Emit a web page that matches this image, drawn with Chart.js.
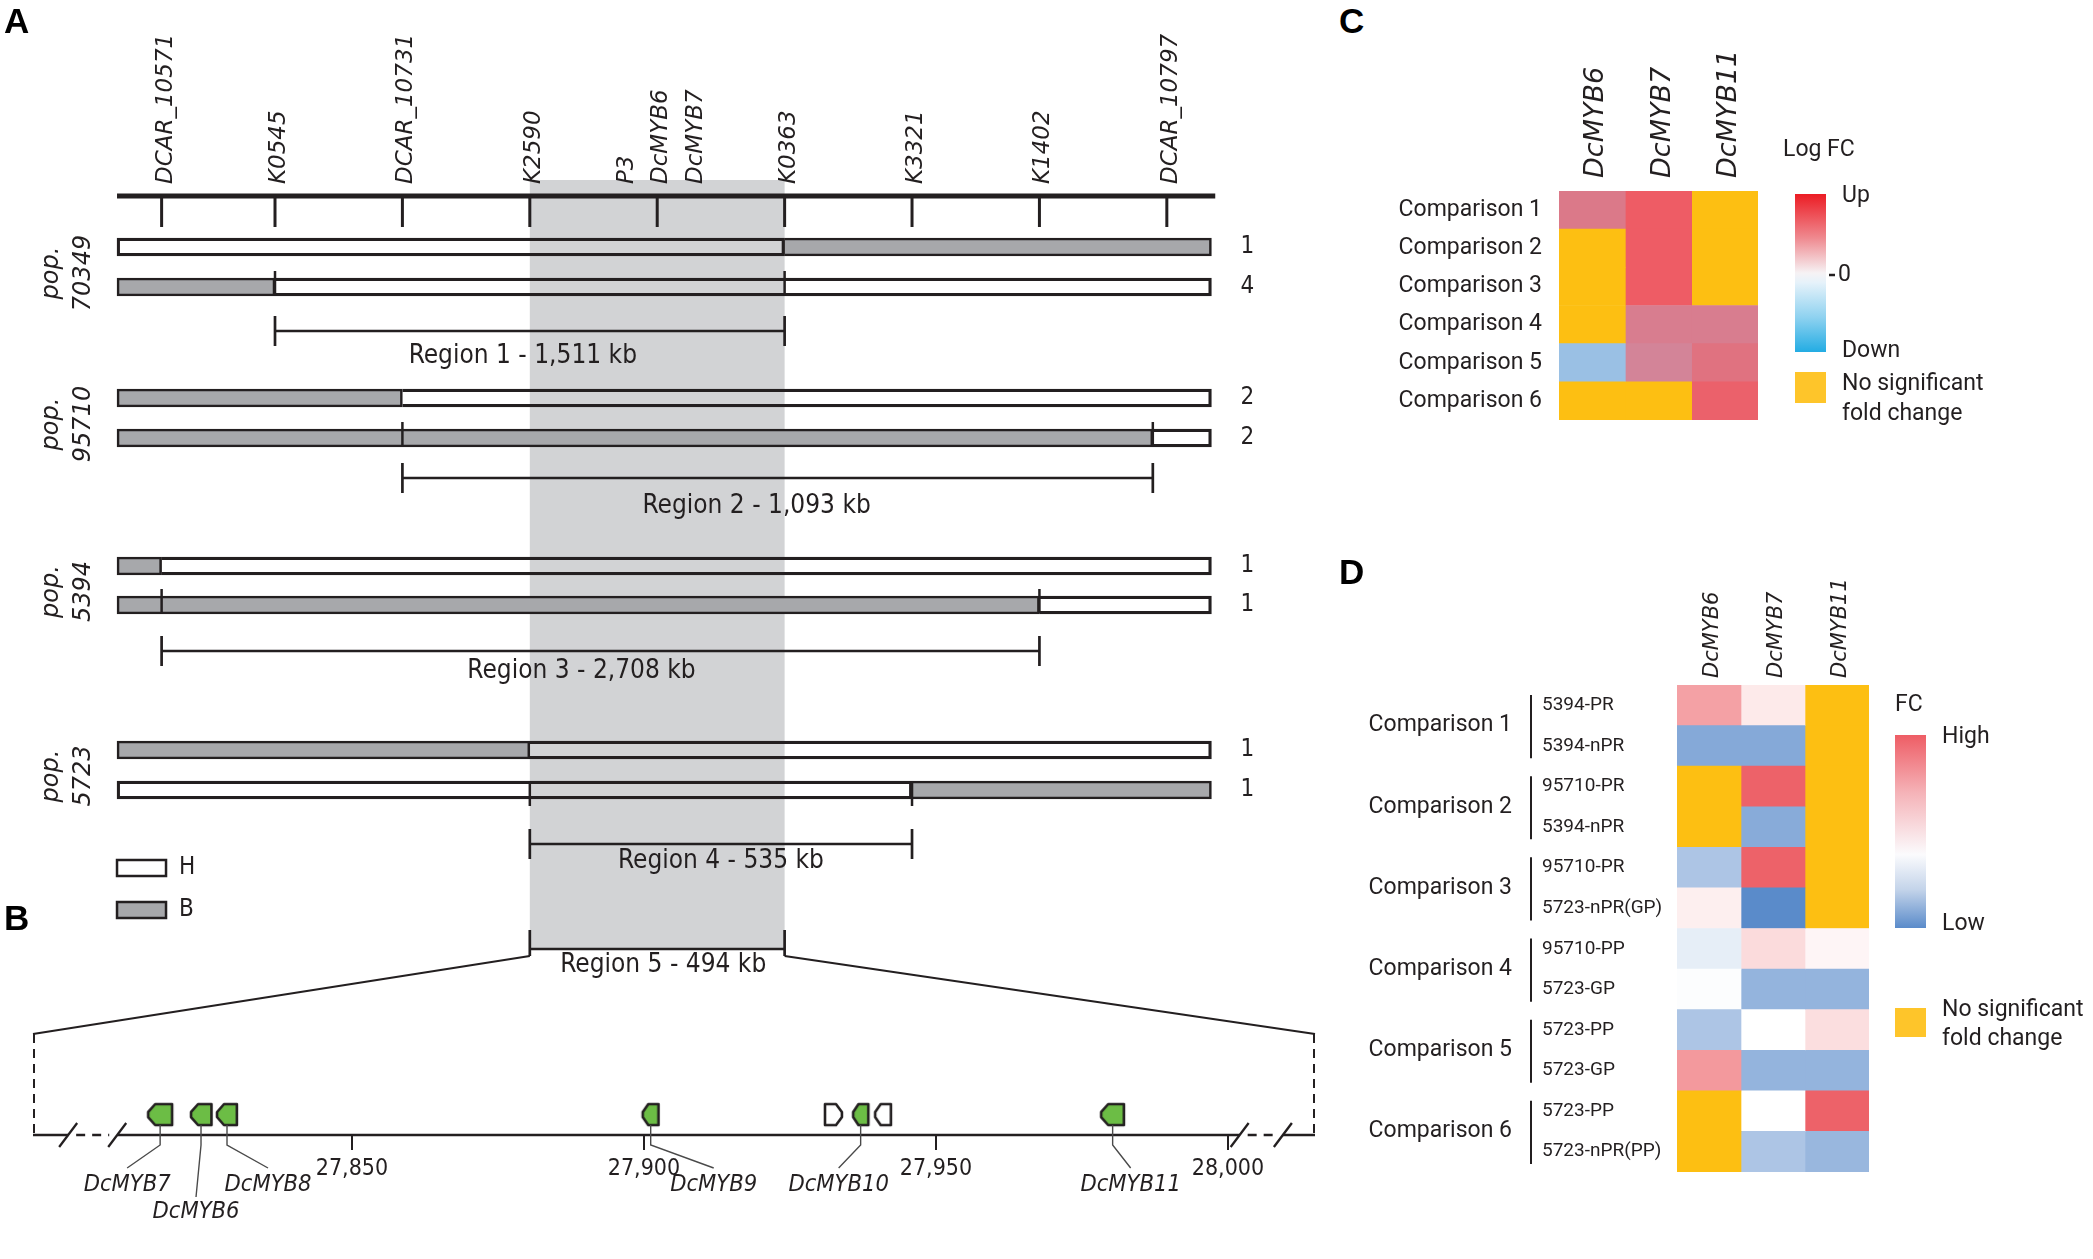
<!DOCTYPE html>
<html>
<head>
<meta charset="utf-8">
<script src="https://cdn.jsdelivr.net/npm/chart.js@4.4.1/dist/chart.umd.min.js"></script>
<style>
  html, body { margin: 0; padding: 0; background: #fff; }
  #page { position: relative; width: 2093px; height: 1259px; overflow: hidden; background: #fff; }
  .box { position: absolute; }
  .letter { position: absolute; font-family: "Liberation Sans", Arial, sans-serif; font-weight: bold; font-size: 35px; line-height: 1; color: #000; }
</style>
</head>
<body>
<div id="page">
  <div class="box" style="left:0;top:0"><canvas id="chartAB" width="1330" height="1259"></canvas></div>
  <div class="box" style="left:1340px;top:40px"><canvas id="chartC" width="753" height="420"></canvas></div>
  <div class="box" style="left:1340px;top:540px"><canvas id="chartD" width="753" height="719"></canvas></div>
  <div class="letter" style="left:4px;top:3px">A</div>
  <div class="letter" style="left:4px;top:900px">B</div>
  <div class="letter" style="left:1339px;top:3px">C</div>
  <div class="letter" style="left:1339px;top:554px">D</div>
</div>
<script>
// ---------- panel A : haplotype blocks along the marker map ----------
const markerPos = [0.11, 1, 2, 3, 4, 5, 6, 7, 8];
const markerNames = [['DCAR_10571'], ['K0545'], ['DCAR_10731'], ['K2590'], ['P3', 'DcMYB6', 'DcMYB7'], ['K0363'], ['K3321'], ['K1402'], ['DCAR_10797']];
const chromStart = -0.24;
const chromEnd = 8.35;
const populations = ['70349', '95710', '5394', '5723'];
// [start, end, allele] for the two haplotypes of each population
const hap70349 = [[[-0.24, 5, 'H'], [5, 8.35, 'B']], [[-0.24, 1, 'B'], [1, 8.35, 'H']]];
const hap95710 = [[[-0.24, 2, 'B'], [2, 8.35, 'H']], [[-0.24, 7.89, 'B'], [7.89, 8.35, 'H']]];
const hap5394 = [[[-0.24, 0.11, 'B'], [0.11, 8.35, 'H']], [[-0.24, 7, 'B'], [7, 8.35, 'H']]];
const hap5723 = [[[-0.24, 3, 'B'], [3, 8.35, 'H']], [[-0.24, 6, 'H'], [6, 8.35, 'B']]];
const hapCounts = [[1, 4], [2, 2], [1, 1], [1, 1]];
const regionNames = ['Region 1 - 1,511 kb', 'Region 2 - 1,093 kb', 'Region 3 - 2,708 kb', 'Region 4 - 535 kb'];
const regionStart = [1, 2, 0.11, 3];
const regionEnd = [5, 7.89, 7, 6];
const region5Name = 'Region 5 - 494 kb';
const region5 = [3, 5];

// ---------- panel B : genes in region 5 (kb) ----------
const geneNames = ['DcMYB7', 'DcMYB6', 'DcMYB8', 'DcMYB9', '', 'DcMYB10', '', 'DcMYB11'];
const geneStart = [27815.1, 27822.4, 27826.9, 27899.8, 27931.0, 27935.8, 27939.6, 27978.3];
const geneEnd = [27819.2, 27825.9, 27830.3, 27902.5, 27933.9, 27938.4, 27942.3, 27982.2];
const geneStrand = ['-', '-', '-', '-', '+', '-', '-', '-'];
const geneIsMyb = [true, true, true, true, false, true, false, true];
const kbMin = 27795.38;
const kbMax = 28014.9;
const kbTicks = [27850, 27900, 27950, 28000];
const kbTickLabels = ['27,850', '27,900', '27,950', '28,000'];

// ---------- panel C : log fold change (null = no significant change) ----------
const cGenes = ['DcMYB6', 'DcMYB7', 'DcMYB11'];
const cComparisons = ['Comparison 1', 'Comparison 2', 'Comparison 3', 'Comparison 4', 'Comparison 5', 'Comparison 6'];
const cMYB6 = [0.35, null, null, null, -1, null];
const cMYB7 = [0.95, 0.95, 0.95, 0.25, 0.1, null];
const cMYB11 = [null, null, null, 0.25, 0.5, 0.85];

// ---------- panel D : fold change per sample (null = no significant change) ----------
const dGenes = ['DcMYB6', 'DcMYB7', 'DcMYB11'];
const dComparisons = ['Comparison 1', 'Comparison 2', 'Comparison 3', 'Comparison 4', 'Comparison 5', 'Comparison 6'];
const dSamples = ['5394-PR', '5394-nPR', '95710-PR', '5394-nPR', '95710-PR', '5723-nPR(GP)', '95710-PP', '5723-GP', '5723-PP', '5723-GP', '5723-PP', '5723-nPR(PP)'];
const dMYB6 = [0.57, -0.74, null, null, -0.5, 0.1, -0.15, -0.02, -0.5, 0.62, null, null];
const dMYB7 = [0.13, -0.74, 0.95, -0.72, 0.95, -1, 0.22, -0.65, 0, -0.65, 0, -0.5];
const dMYB11 = [null, null, null, null, null, null, 0.06, -0.65, 0.2, -0.65, 0.95, -0.62];

// ---------- styles / layout ----------
const INK = '#231f20';
const NS_COLOR = '#fdbf12';
const NARROW = '"Liberation Sans Narrow", "DejaVu Sans Condensed", sans-serif';
const WIDE = '"DejaVu Sans", sans-serif';
const SANS = 'Roboto, "Liberation Sans", sans-serif';

// vertical positions of panel A/B in row units (one row = 40px)
const L = {
  rowY: [[0, 1], [3.775, 4.775], [7.975, 8.95], [12.575, 13.575]],
  regionY: [2.1, 5.775, 10.1, 14.925],
  regionTextY: [2.725, 6.475, 10.6, 15.35],
  regionTextDX: [-7, -21, -19, 0],
  breakTickDir: [-1, -1, -1, 1],
  axisY: -1.275, tickEndY: -0.5, labelBaseY: -1.575, axisEnd: 8.38,
  bandTop: -1.675, bandBottom: 17.575,
  r5TickTop: 17.075, r5TickBot: 17.725, r5LineY: 17.55, r5TextY: 17.95,
  legendY: [15.525, 16.575],
  zoomY: 19.675, kbAxisY: 22.2, geneY: 21.69, kbTickEnd: 22.575, kbLabelY: 23.05,
  elbowY: 22.45, leaderEndY: 23.025,
  breaksLeft: [27801.4, 27809.8], breaksRight: [28002, 28009.4]
};
const geneLabelDX = [-33, -5, 41, 63, 0, -22, 0, 18];
const geneLabelY = [23.45, 24.125, 23.45, 23.45, 0, 23.45, 0, 23.45];
const pxPerKb = 1282 / (kbMax - kbMin);

function hexToRgb(h) {
  const n = parseInt(h.slice(1), 16);
  return [(n >> 16) & 255, (n >> 8) & 255, n & 255];
}
function ramp(stops, v) {
  if (v <= stops[0][0]) return stops[0][1];
  for (let i = 1; i < stops.length; i++) {
    if (v <= stops[i][0]) {
      const t = (v - stops[i - 1][0]) / (stops[i][0] - stops[i - 1][0]);
      const a = hexToRgb(stops[i - 1][1]), b = hexToRgb(stops[i][1]);
      return 'rgb(' + a.map((c, k) => Math.round(c + (b[k] - c) * t)).join(',') + ')';
    }
  }
  return stops[stops.length - 1][1];
}
const cStops = [[-1, '#9ac0e4'], [0, '#d0899e'], [1, '#f05a62']];
const dStops = [[-1, '#5a8bca'], [0, '#ffffff'], [1, '#ec5a61']];

function line(ctx, x1, y1, x2, y2, w) {
  ctx.lineWidth = w;
  ctx.beginPath(); ctx.moveTo(x1, y1); ctx.lineTo(x2, y2); ctx.stroke();
}
function text(ctx, s, x, y, font, align, base) {
  ctx.font = font; ctx.textAlign = align || 'center'; ctx.textBaseline = base || 'middle';
  ctx.fillText(s, x, y);
}
function rotText(ctx, s, x, y, font, align) {
  ctx.save();
  ctx.translate(x, y); ctx.rotate(-Math.PI / 2);
  ctx.font = font; ctx.textAlign = align || 'left'; ctx.textBaseline = 'alphabetic';
  ctx.fillText(s, 0, 0);
  ctx.restore();
}

function geneGlyph(w, h, strand, fill) {
  const c = document.createElement('canvas');
  const pad = 3;
  c.width = Math.round(w + pad * 2); c.height = Math.round(h + pad * 2);
  const g = c.getContext('2d');
  const t = Math.min(7, w * 0.35);
  g.beginPath();
  if (strand === '-') {
    g.moveTo(pad + t, pad); g.lineTo(pad + w, pad); g.lineTo(pad + w, pad + h);
    g.lineTo(pad + t, pad + h); g.lineTo(pad, pad + h * 0.62); g.lineTo(pad, pad + h * 0.38);
  } else {
    g.moveTo(pad, pad); g.lineTo(pad + w - t, pad); g.lineTo(pad + w, pad + h * 0.38);
    g.lineTo(pad + w, pad + h * 0.62); g.lineTo(pad + w - t, pad + h); g.lineTo(pad, pad + h);
  }
  g.closePath();
  g.fillStyle = fill; g.fill();
  g.lineWidth = 2.6; g.lineJoin = 'round'; g.strokeStyle = INK; g.stroke();
  return c;
}

// ---------- chart A + B ----------
const hapByPop = [hap70349, hap95710, hap5394, hap5723];
const blocksH = [], blocksB = [];
hapByPop.forEach((haps, p) => haps.forEach((blocks, h) => blocks.forEach(([s, e, a]) => {
  (a === 'H' ? blocksH : blocksB).push({ x: [s, e], y: L.rowY[p][h] });
})));
const genePoints = geneStart.map((s, i) => ({ x: (s + geneEnd[i]) / 2, y: L.geneY }));
const geneStyles = geneStart.map((s, i) =>
  geneGlyph((geneEnd[i] - s) * pxPerKb, 21, geneStrand[i], geneIsMyb[i] ? '#6cbd45' : '#ffffff'));

const skipJoin = c => (c.raw && c.raw.x[0] > chromStart + 0.01 ? 'start' : false);

const abDecor = {
  id: 'abDecor',
  beforeDatasetsDraw(chart) {
    const { ctx } = chart;
    const X = v => chart.scales.x.getPixelForValue(v);
    const Y = v => chart.scales.y.getPixelForValue(v);
    ctx.save();
    ctx.fillStyle = '#d2d3d5';
    ctx.fillRect(X(region5[0]), Y(L.bandTop), X(region5[1]) - X(region5[0]), Y(L.bandBottom) - Y(L.bandTop));
    ctx.restore();
  },
  afterDatasetsDraw(chart) {
    const { ctx } = chart;
    const X = v => chart.scales.x.getPixelForValue(v);
    const Y = v => chart.scales.y.getPixelForValue(v);
    const K = v => chart.scales.xkb.getPixelForValue(v);
    ctx.save();
    ctx.strokeStyle = INK; ctx.fillStyle = INK; ctx.lineCap = 'butt';

    // marker map
    line(ctx, X(chromStart), Y(L.axisY), X(L.axisEnd), Y(L.axisY), 5);
    markerPos.forEach((m, i) => {
      line(ctx, X(m), Y(L.axisY), X(m), Y(L.tickEndY), 3);
      const names = markerNames[i];
      names.forEach((n, j) => {
        const dx = (j - (names.length - 1) / 2) * 34.5 + 10;
        rotText(ctx, n, X(m) + dx, Y(L.labelBaseY), 'italic 23px ' + WIDE, 'left');
      });
    });

    // populations, counts, regions
    populations.forEach((p, i) => {
      const y0 = Y(L.rowY[i][0]), y1 = Y(L.rowY[i][1]);
      const cy = (y0 + y1) / 2 + 6;
      rotText(ctx, 'pop.', X(chromStart) - 59, cy, 'italic 24px ' + WIDE, 'center');
      rotText(ctx, p, X(chromStart) - 27, cy, 'italic 24px ' + WIDE, 'center');
      hapCounts[i].forEach((c, h) => text(ctx, String(c), X(chromEnd) + 29, Y(L.rowY[i][h]), '24px ' + NARROW, 'left'));

      const ry = Y(L.regionY[i]);
      const xs = X(regionStart[i]), xe = X(regionEnd[i]);
      line(ctx, xs, ry, xe, ry, 2.7);
      line(ctx, xs, ry - 15, xs, ry + 15, 2.7);
      line(ctx, xe, ry - 15, xe, ry + 15, 2.7);
      text(ctx, regionNames[i], (xs + xe) / 2 + L.regionTextDX[i], Y(L.regionTextY[i]), '26px ' + NARROW);

      // region boundaries marked on the second haplotype
      const d = L.breakTickDir[i];
      [xs, xe].forEach(x => {
        const a = y1 + (d < 0 ? -16 : -8.5), b = y1 + (d < 0 ? 8.5 : 16);
        line(ctx, x, a, x, b, 2.5);
      });
    });

    // legend H / B
    ['H', 'B'].forEach((k, i) => {
      const y = Y(L.legendY[i]);
      const x0 = X(chromStart);
      ctx.fillStyle = k === 'H' ? '#ffffff' : '#a7a8ab';
      ctx.fillRect(x0, y - 8, 49, 16);
      ctx.lineWidth = 2.5; ctx.strokeRect(x0, y - 8, 49, 16);
      ctx.fillStyle = INK;
      text(ctx, k, x0 + 62, y, '24px ' + NARROW, 'left');
    });

    // region 5 bracket and zoom
    const r5a = X(region5[0]), r5b = X(region5[1]);
    line(ctx, r5a, Y(L.r5TickTop), r5a, Y(L.r5TickBot), 2.7);
    line(ctx, r5b, Y(L.r5TickTop), r5b, Y(L.r5TickBot), 2.7);
    line(ctx, r5a, Y(L.r5LineY), r5b, Y(L.r5LineY), 2.5);
    text(ctx, region5Name, (r5a + r5b) / 2 + 6, Y(L.r5TextY), '26px ' + NARROW);
    line(ctx, r5a, Y(L.r5TickBot), K(kbMin), Y(L.zoomY), 2.2);
    line(ctx, r5b, Y(L.r5TickBot), K(kbMax), Y(L.zoomY), 2.2);
    ctx.setLineDash([9, 6]);
    line(ctx, K(kbMin) + 1, Y(L.zoomY), K(kbMin) + 1, Y(L.kbAxisY), 2);
    line(ctx, K(kbMax) - 1, Y(L.zoomY), K(kbMax) - 1, Y(L.kbAxisY), 2);
    ctx.setLineDash([]);

    // kb axis with breaks
    const ay = Y(L.kbAxisY);
    line(ctx, K(kbMin), ay, K(L.breaksLeft[0]), ay, 2.5);
    line(ctx, K(L.breaksLeft[1]), ay, K(L.breaksRight[0]), ay, 2.5);
    line(ctx, K(L.breaksRight[1]), ay, K(kbMax), ay, 2.5);
    ctx.setLineDash([9, 7]);
    line(ctx, K(L.breaksLeft[0]) + 8, ay, K(L.breaksLeft[1]) - 8, ay, 2.5);
    line(ctx, K(L.breaksRight[0]) + 8, ay, K(L.breaksRight[1]) - 8, ay, 2.5);
    ctx.setLineDash([]);
    L.breaksLeft.concat(L.breaksRight).forEach(b => line(ctx, K(b) - 9, ay + 12, K(b) + 9, ay - 12, 2.3));
    kbTicks.forEach((t, i) => {
      line(ctx, K(t), ay, K(t), Y(L.kbTickEnd), 2);
      text(ctx, kbTickLabels[i], K(t), Y(L.kbLabelY), '23px ' + NARROW);
    });

    // gene labels with leader lines
    ctx.strokeStyle = '#4a4a4a';
    geneNames.forEach((n, i) => {
      if (!n) return;
      const gx = K((geneStart[i] + geneEnd[i]) / 2);
      const gb = Y(L.geneY) + 10.5;
      const lx = gx + geneLabelDX[i];
      const ly = Y(geneLabelY[i]);
      const endY = geneLabelY[i] > 24 ? ly - 15 : Y(L.leaderEndY);
      ctx.lineWidth = 1.4;
      ctx.beginPath(); ctx.moveTo(gx, gb); ctx.lineTo(gx, Y(L.elbowY)); ctx.lineTo(lx, endY); ctx.stroke();
      text(ctx, n, lx, ly, 'italic 23.5px ' + NARROW);
    });
    ctx.restore();
  }
};

new Chart(document.getElementById('chartAB'), {
  type: 'bar',
  data: {
    datasets: [
      { type: 'bar', label: 'H', indexAxis: 'y', data: blocksH, xAxisID: 'x', yAxisID: 'y',
        backgroundColor: 'rgba(255,255,255,0)', borderColor: INK, borderWidth: 2.6,
        borderSkipped: skipJoin, barThickness: 18, grouped: false },
      { type: 'bar', label: 'B', indexAxis: 'y', data: blocksB, xAxisID: 'x', yAxisID: 'y',
        backgroundColor: '#a7a8ab', borderColor: INK, borderWidth: 2.6,
        borderSkipped: skipJoin, barThickness: 18, grouped: false },
      { type: 'scatter', label: 'genes', data: genePoints, xAxisID: 'xkb', yAxisID: 'y',
        pointStyle: geneStyles, pointRadius: 10 }
    ]
  },
  options: {
    responsive: false, animation: false, events: [],
    layout: { padding: { left: 33, right: 15, top: 20, bottom: 9 }, autoPadding: false },
    scales: {
      x: { type: 'linear', min: -0.8995, max: 9.163, offset: false, display: false },
      xkb: { type: 'linear', axis: 'x', min: kbMin, max: kbMax, offset: false, display: false },
      y: { type: 'linear', reverse: true, min: -5.675, max: 25.075, offset: false, display: false }
    },
    plugins: { legend: { display: false }, tooltip: { enabled: false } }
  },
  plugins: [abDecor]
});

// ---------- heatmaps ----------
function heatDatasets(columns, stops) {
  return columns.map((vals, c) => ({
    data: vals.map(() => [c, c + 1]),
    backgroundColor: vals.map(v => (v === null ? NS_COLOR : ramp(stops, v))),
    borderWidth: 0, grouped: false, barPercentage: 1, categoryPercentage: 1
  }));
}

function legendBlock(ctx, x, y, w, h, stops) {
  const g = ctx.createLinearGradient(0, y, 0, y + h);
  stops.forEach(([o, c]) => g.addColorStop(o, c));
  ctx.fillStyle = g; ctx.fillRect(x, y, w, h);
}

const cDecor = {
  id: 'cDecor',
  afterDatasetsDraw(chart) {
    const { ctx, chartArea } = chart;
    const xs = chart.scales.x;
    ctx.save();
    ctx.fillStyle = INK; ctx.strokeStyle = INK;
    cGenes.forEach((g, c) => rotText(ctx, g, xs.getPixelForValue(c + 0.5) + 11, chartArea.top - 13, 'italic 27px ' + WIDE, 'left'));
    text(ctx, 'Log FC', 443, 110, '23px ' + SANS, 'left');
    legendBlock(ctx, 455, 154, 31, 158, [[0, '#ec1c24'], [0.28, '#ef8a90'], [0.5, '#f6f2f4'], [0.56, '#e6f2fa'], [0.78, '#8fd2f0'], [1, '#23ace3']]);
    ctx.fillStyle = INK;
    text(ctx, 'Up', 502, 156, '23px ' + SANS, 'left');
    line(ctx, 489, 235, 495, 235, 2.5);
    text(ctx, '0', 498, 235, '23px ' + SANS, 'left');
    text(ctx, 'Down', 502, 311, '23px ' + SANS, 'left');
    ctx.fillStyle = '#fec52a'; ctx.fillRect(455, 332, 31, 31);
    ctx.fillStyle = INK;
    text(ctx, 'No significant', 502, 344, '23px ' + SANS, 'left');
    text(ctx, 'fold change', 502, 374, '23px ' + SANS, 'left');
    ctx.restore();
  }
};

new Chart(document.getElementById('chartC'), {
  type: 'bar',
  data: { labels: cComparisons, datasets: heatDatasets([cMYB6, cMYB7, cMYB11], cStops) },
  options: {
    indexAxis: 'y', responsive: false, animation: false, events: [],
    layout: { padding: { left: 0, top: 151, right: 335, bottom: 40 } },
    scales: {
      x: { type: 'linear', min: 0, max: 3, display: false },
      y: { type: 'category', grid: { display: false, drawTicks: false }, border: { display: false },
        ticks: { color: INK, font: { family: 'Roboto', size: 23 }, padding: 17 },
        afterFit: s => { s.width = 219; } }
    },
    plugins: { legend: { display: false }, tooltip: { enabled: false } }
  },
  plugins: [cDecor]
});

const dDecor = {
  id: 'dDecor',
  afterDatasetsDraw(chart) {
    const { ctx, chartArea } = chart;
    const xs = chart.scales.x, ys = chart.scales.y;
    const rowH = (chartArea.bottom - chartArea.top) / dSamples.length;
    ctx.save();
    ctx.fillStyle = INK; ctx.strokeStyle = INK;
    dGenes.forEach((g, c) => rotText(ctx, g, xs.getPixelForValue(c + 0.5) + 9, chartArea.top - 7, 'italic 21px ' + WIDE, 'left'));
    dComparisons.forEach((name, k) => {
      const top = ys.getPixelForValue(2 * k) - rowH / 2;
      const bot = ys.getPixelForValue(2 * k + 1) + rowH / 2;
      line(ctx, 191, top + 10, 191, bot - 8, 2);
      text(ctx, name, 172, (top + bot) / 2, '23px ' + SANS, 'right');
    });
    text(ctx, 'FC', 555, 165, '23px ' + SANS, 'left');
    legendBlock(ctx, 555, 195, 31, 193, [[0, '#ee5d65'], [0.3, '#f5b3b8'], [0.62, '#fbfbfd'], [0.8, '#c4d4ea'], [1, '#5a8bca']]);
    ctx.fillStyle = INK;
    text(ctx, 'High', 602, 197, '23px ' + SANS, 'left');
    text(ctx, 'Low', 602, 384, '23px ' + SANS, 'left');
    ctx.fillStyle = '#fec52a'; ctx.fillRect(555, 468, 31, 29);
    ctx.fillStyle = INK;
    text(ctx, 'No significant', 602, 470, '23px ' + SANS, 'left');
    text(ctx, 'fold change', 602, 499, '23px ' + SANS, 'left');
    ctx.restore();
  }
};

new Chart(document.getElementById('chartD'), {
  type: 'bar',
  data: { labels: dSamples, datasets: heatDatasets([dMYB6, dMYB7, dMYB11], dStops) },
  options: {
    indexAxis: 'y', responsive: false, animation: false, events: [],
    layout: { padding: { left: 202, top: 145, right: 224, bottom: 87 } },
    scales: {
      x: { type: 'linear', min: 0, max: 3, display: false },
      y: { type: 'category', grid: { display: false, drawTicks: false }, border: { display: false },
        ticks: { color: INK, font: { family: 'Roboto', size: 19 }, crossAlign: 'far', autoSkip: false },
        afterFit: s => { s.width = 135; } }
    },
    plugins: { legend: { display: false }, tooltip: { enabled: false } }
  },
  plugins: [dDecor]
});
</script>
</body>
</html>
